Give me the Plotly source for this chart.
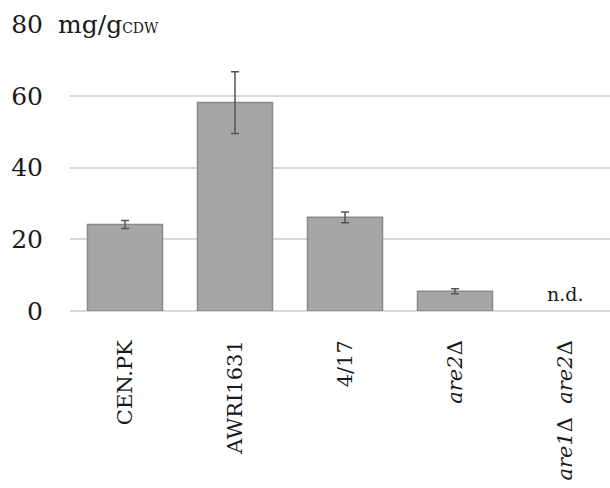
import plotly.graph_objects as go

# Strains and measured content (mg per g cell dry weight); None = not detected
strains = ["CEN.PK", "AWRI1631", "4/17", "<i>are2</i>Δ", "<i>are1</i>Δ\u00a0\u00a0<i>are2</i>Δ"]
content = [24.1, 58.1, 26.1, 5.5, None]
errors = [1.1, 8.6, 1.5, 0.7, None]
y_ticks = [0, 20, 40, 60, 80]

FONT = "DejaVu Serif"
xpos = list(range(len(strains)))

fig = go.Figure()
fig.add_trace(go.Bar(
    x=xpos,
    y=content,
    marker=dict(color="#a6a6a6", line=dict(color="#8a8a8a", width=1.5)),
    error_y=dict(type="data", array=errors, visible=True,
                 color="#555555", thickness=1.5, width=4),
    showlegend=False,
))

# not-detected marker for the double mutant
fig.add_annotation(x=4, y=0, text="n.d.", showarrow=False,
                   yanchor="bottom", yshift=4,
                   font=dict(family=FONT, size=19, color="#1a1a1a"))

# unit label next to the top tick, masking the top grid line
fig.add_annotation(xref="paper", yref="y", x=-0.028, y=80, xanchor="left",
                   text="mg/g<span style='font-size:14px'>CDW</span>",
                   showarrow=False, bgcolor="white", borderpad=2,
                   font=dict(family=FONT, size=25, color="#1a1a1a"))

fig.update_layout(
    width=610, height=488,
    margin=dict(l=70, r=0, t=24, b=177),
    plot_bgcolor="white", paper_bgcolor="white",
    bargap=0.318,
    font=dict(family=FONT, color="#1a1a1a"),
    xaxis=dict(
        range=[-0.5, 4.409], automargin=False,
        tickmode="array", tickvals=xpos, ticktext=strains,
        tickangle=-90, showgrid=False, showline=False, zeroline=False,
        tickfont=dict(family=FONT, size=21, color="#1a1a1a"),
        ticks="", ticklabelstandoff=24,
    ),
    yaxis=dict(
        range=[0, 80], automargin=False,
        tickmode="array", tickvals=y_ticks,
        showgrid=True, gridcolor="#d9d9d9", gridwidth=1.5,
        zeroline=True, zerolinecolor="#d9d9d9", zerolinewidth=1.5,
        showline=False, ticks="",
        tickfont=dict(family=FONT, size=25, color="#1a1a1a"),
        ticklabelstandoff=26,
    ),
)

fig.write_html("out.html")
